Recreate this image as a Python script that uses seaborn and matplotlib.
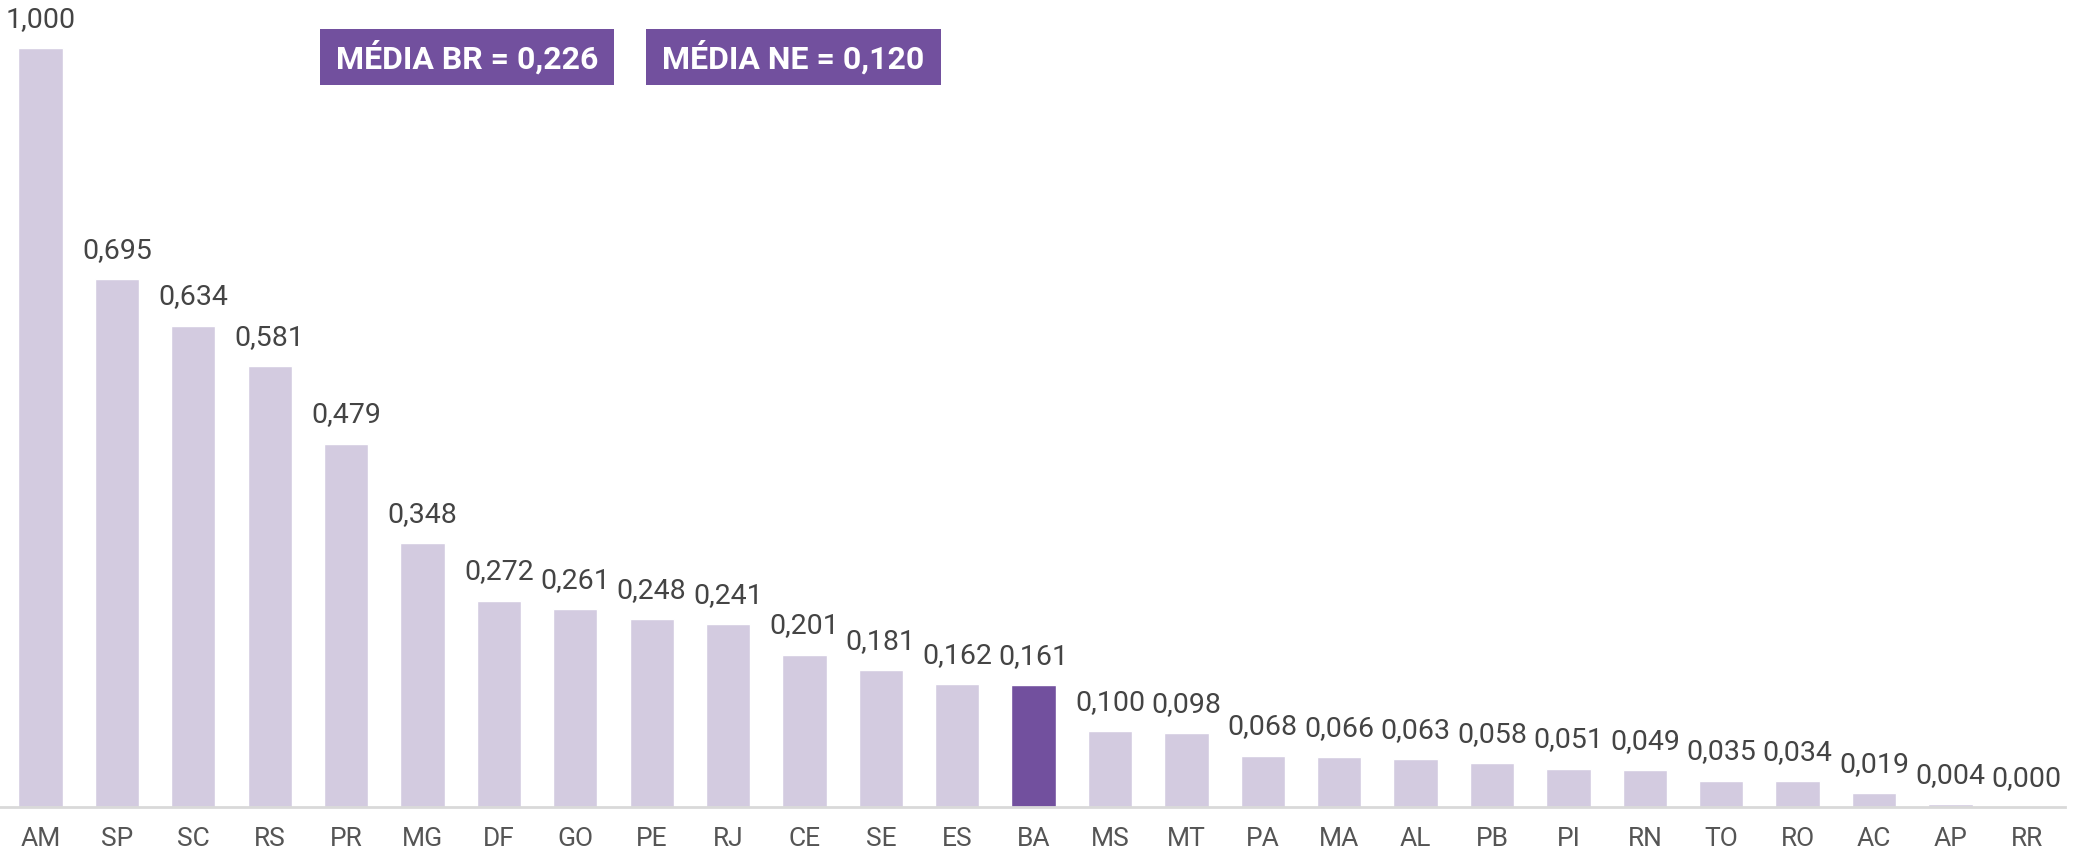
import seaborn as sns
import pandas as pd
import matplotlib.pyplot as plt
from matplotlib.patches import Rectangle

# data
states = ['AM', 'SP', 'SC', 'RS', 'PR', 'MG', 'DF', 'GO', 'PE', 'RJ', 'CE', 'SE', 'ES', 'BA',
          'MS', 'MT', 'PA', 'MA', 'AL', 'PB', 'PI', 'RN', 'TO', 'RO', 'AC', 'AP', 'RR']
values = [1.000, 0.695, 0.634, 0.581, 0.479, 0.348, 0.272, 0.261, 0.248, 0.241, 0.201, 0.181, 0.162, 0.161,
          0.100, 0.098, 0.068, 0.066, 0.063, 0.058, 0.051, 0.049, 0.035, 0.034, 0.019, 0.004, 0.000]
highlight = 'BA'
media_labels = ['MÉDIA BR = 0,226', 'MÉDIA NE = 0,120']

LIGHT = '#D3CBE0'
DARK = '#72509E'
TEXT = '#444444'

df = pd.DataFrame({'uf': states, 'valor': values})
df['grupo'] = ['destaque' if s == highlight else 'outros' for s in df['uf']]

sns.set_theme(style='white')
plt.rcParams['font.family'] = ['Roboto', 'DejaVu Sans']

W, H = 2075, 857
fig = plt.figure(figsize=(W / 100, H / 100), dpi=100)
ax = fig.add_axes([0.0, 0.058, 2065 / W, 0.942])

sns.barplot(data=df, x='uf', y='valor', hue='grupo', order=states,
            palette={'outros': LIGHT, 'destaque': DARK}, dodge=False,
            legend=False, width=0.58, ax=ax, saturation=1)

for c in ax.containers:
    ax.bar_label(c, fmt=lambda v: f'{v:.3f}'.replace('.', ','), padding=11,
                 fontsize=20.5, color=TEXT)

ax.set_xlim(-0.53, 26.5)
ax.set_ylim(0, 1.063)
ax.set_xlabel('')
ax.set_ylabel('')
ax.set_yticks([])
for side in ['top', 'left', 'right']:
    ax.spines[side].set_visible(False)
ax.spines['bottom'].set_color('#D9D9D9')
ax.spines['bottom'].set_linewidth(2)
ax.tick_params(axis='x', length=0, pad=14, labelsize=19, labelcolor='#555555')

# average boxes (pixel layout of the reference)
boxes = [(320, 29, 614, 85), (646, 29, 941, 85)]
for (x0, y0, x1, y1), lab in zip(boxes, media_labels):
    fig.patches.append(Rectangle((x0 / W, 1 - y1 / H), (x1 - x0) / W, (y1 - y0) / H,
                                 transform=fig.transFigure, facecolor=DARK, edgecolor='none'))
    fig.text((x0 + x1) / 2 / W, 1 - (y0 + y1) / 2 / H, lab, ha='center', va='center',
             color='white', fontsize=23, fontweight='bold')

fig.savefig('out.png', dpi=100)
